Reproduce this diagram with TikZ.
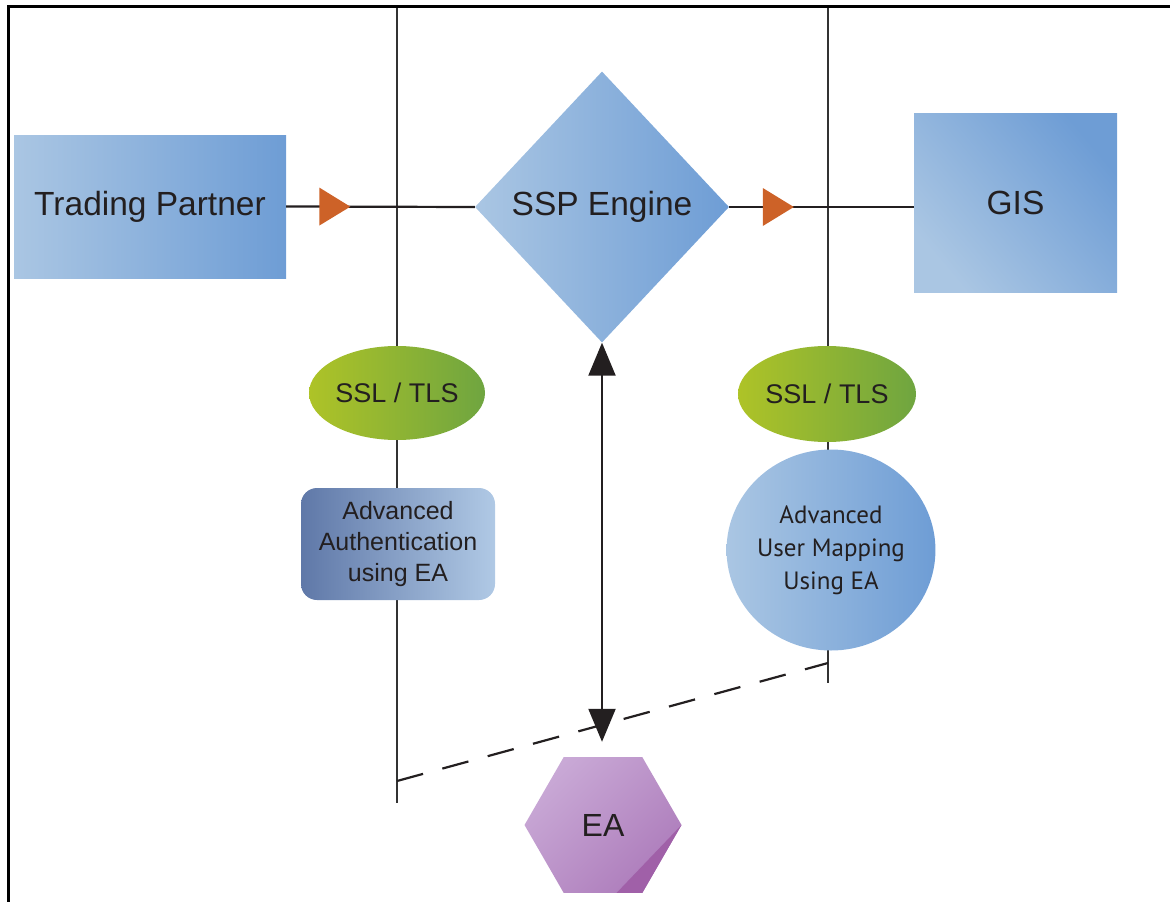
\documentclass[tikz,border=0pt]{standalone}
\usepackage{fontspec}
\setmainfont{Liberation Sans}
\newfontfamily\myriad{PT Sans}
\usetikzlibrary{shapes.geometric,arrows.meta,decorations.markings}
\definecolor{ln}{HTML}{231F20}
\definecolor{wireclr}{HTML}{333333}
\definecolor{orangetri}{HTML}{CD6228}
\definecolor{bluelight}{HTML}{AAC6E3}
\definecolor{bluedark}{HTML}{6E9DD5}
\definecolor{greenL}{HTML}{AEC327}
\definecolor{greenR}{HTML}{6FA540}
\definecolor{authL}{HTML}{5F78A8}
\definecolor{authR}{HTML}{B0C9E5}
\definecolor{purpleL}{HTML}{C9A9D6}
\definecolor{purpleR}{HTML}{AD7CBB}
\definecolor{purpleD}{HTML}{A060A8}
\begin{document}
\begin{tikzpicture}[x=1pt,y=-1pt,
  flow/.style={draw=ln, line width=2.2pt},
  wire/.style={draw=wireclr, line width=2.2pt},
  withtri/.style={postaction={decorate}, decoration={markings,
     mark=at position #1 with {\fill[orangetri] (0pt,0pt) -- (-31pt,19pt) -- (-31pt,-19pt) -- cycle;}}},
  bluebox/.style={left color=bluelight, right color=bluedark, inner sep=0pt, text=ln},
  sslnode/.style={ellipse, left color=greenL, right color=greenR, inner sep=0pt, text=ln,
     font=\fontsize{27}{32}\selectfont},
  bigfont/.style={font=\fontsize{33.5}{38}\selectfont},
  dblarrow/.style={flow, {Triangle[width=27pt,length=33pt]}-{Triangle[width=27pt,length=33pt]}}
]
\useasboundingbox (0,0) rectangle (1170,902);
% frame
\draw[line width=3pt, black] (8,902) -- (8,6) -- (1170,6);
% guide lines
\coordinate (v1a) at (397,8);
\coordinate (v1b) at (397,803);
\coordinate (v2a) at (828,8);
\coordinate (v2b) at (828,683);
\coordinate (d1) at (397,781);
\coordinate (d2) at (828,663);
\draw[wire] (v1a) -- (v1b);
\draw[wire] (v2a) -- (v2b);
\draw[flow, dash pattern=on 27pt off 20pt] (d1) -- (d2);
% nodes
\node[bluebox, bigfont, minimum width=272pt, minimum height=143pt] (tp) at (150,206.5) {Trading Partner\hspace{10pt}};
\node[bluebox, bigfont, diamond, minimum width=254pt, minimum height=271pt] (ssp) at (602,207) {SSP Engine};
\node[bluebox, bigfont, shading angle=130, minimum width=203pt, minimum height=179pt] (gis) at (1015.5,202.5) {GIS};
\node[sslnode, minimum width=176pt, minimum height=94pt] (ssl1) at (397,393) {SSL / TLS};
\node[sslnode, minimum width=178pt, minimum height=96pt] (ssl2) at (827,394) {SSL / TLS};
\node[rounded corners=16pt, left color=authL, right color=authR, text=ln, inner sep=0pt,
      minimum width=194pt, minimum height=112pt, align=center,
      font=\fontsize{25}{31}\selectfont] (auth) at (398,544) {Advanced\\Authentication\\using EA};
\node[ellipse, bluebox, minimum width=189pt, minimum height=201pt, align=center,
      font=\myriad\fontsize{25}{33}\selectfont] (map) at (831,550) {Advanced\\User Mapping\\Using EA};
\node[regular polygon, regular polygon sides=6, minimum size=157pt, inner sep=0pt,
      left color=purpleL, right color=purpleR, shading angle=45, text=ln,
      font=\fontsize{32}{38}\selectfont,
      path picture={\fill[purpleD] (path picture bounding box.east) -- (path picture bounding box.south east)
         -- ([xshift=-65pt]path picture bounding box.south east) -- cycle;}] (ea) at (603,825) {EA};
% connectors
\draw[flow, withtri=0.34] (tp.east) -- (ssp.west);
\draw[flow, withtri=0.35] (ssp.east) -- (ssp.east -| gis.west);
\draw[dblarrow, shorten >=15pt] (ssp.south) -- (ssp.south |- ea.north);
\end{tikzpicture}
\end{document}
